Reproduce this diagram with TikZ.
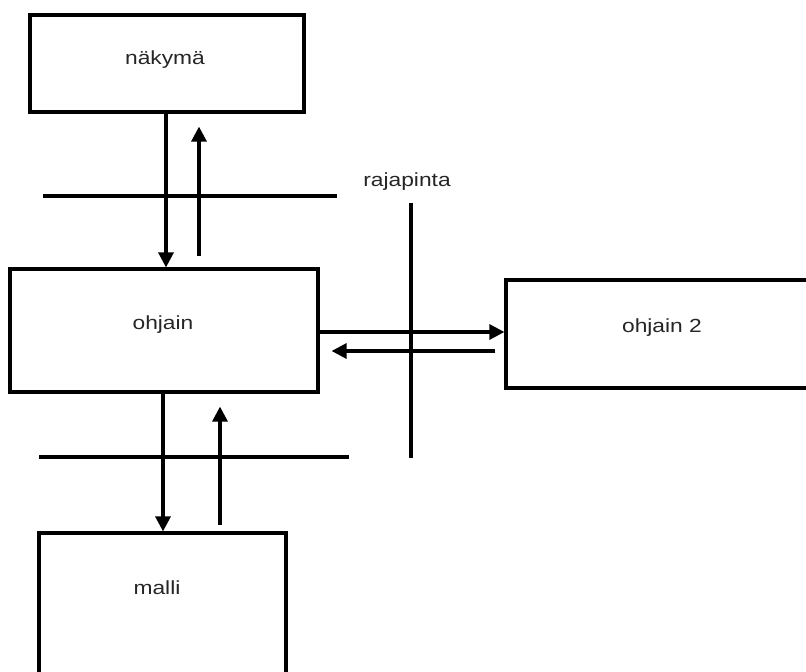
\documentclass[tikz,border=0pt]{standalone}
\usepackage{fontspec}
\setmainfont{Liberation Sans}
\usetikzlibrary{arrows.meta}
% labels are set a little wider than the plain font
\newcommand{\widetext}[1]{\scalebox{1.2}[1]{#1}}
\begin{document}
\begin{tikzpicture}[x=1pt,y=-1pt,
  box/.style={draw=black, line width=3.2pt, rectangle, inner sep=0pt},
  lbl/.style={font=\fontsize{19}{22}\selectfont, text=black!85, inner sep=0pt},
  arr/.style={line width=3.2pt, -{Triangle[length=15pt,width=15pt]}},
  rule/.style={line width=3.2pt}]
\clip (0,0) rectangle (806,672);
\fill[white] (0,0) rectangle (806,672);

% boxes
\node[box, minimum width=274pt, minimum height=97pt]  (nakyma) at (167,63.5) {};
\node[box, minimum width=308pt, minimum height=123pt] (ohjain) at (164,330.5) {};
\node[box, minimum width=312pt, minimum height=108pt] (ohjain2) at (662,334) {};
\node[box, minimum width=247pt, minimum height=179pt] (malli) at (162.5,622.5) {};

% box labels
\node[lbl] (nakymaText)  at (165,60)  {\widetext{näkymä}};
\node[lbl] (ohjainText)  at (163,325) {\widetext{ohjain}};
\node[lbl] (ohjain2Text) at (662,328) {\widetext{ohjain 2}};
\node[lbl] (malliText)   at (157,588) {\widetext{malli}};

% interface boundaries
\coordinate (topRuleL) at (43,196);
\coordinate (topRuleR) at (337,196);
\coordinate (botRuleL) at (39,457);
\coordinate (botRuleR) at (349,457);
\coordinate (sideRuleT) at (411,203);
\coordinate (sideRuleB) at (411,458);
\draw[rule] (topRuleL) -- (topRuleR);
\draw[rule] (botRuleL) -- (botRuleR);
\draw[rule] (sideRuleT) -- (sideRuleB);
\node[lbl] (rajapinta) at (407,182) {\widetext{rajapinta}};

% lanes of the connectors
\coordinate (laneA) at (166,0);
\coordinate (laneB) at (199,0);
\coordinate (laneC) at (163,0);
\coordinate (laneD) at (220,0);
\coordinate (laneE) at (0,332);
\coordinate (laneF) at (0,351);

% view <-> controller
\draw[arr] (nakyma.south -| laneA) -- (ohjain.north -| laneA);
\draw[arr, shorten <=11pt, shorten >=13pt] (ohjain.north -| laneB) -- (nakyma.south -| laneB);

% controller <-> controller 2
\draw[arr] (ohjain.east |- laneE) -- (ohjain2.west |- laneE);
\draw[arr, shorten <=9pt, shorten >=12pt] (ohjain2.west |- laneF) -- (ohjain.east |- laneF);

% controller <-> model
\draw[arr] (ohjain.south -| laneC) -- (malli.north -| laneC);
\draw[arr, shorten <=6pt, shorten >=13pt] (malli.north -| laneD) -- (ohjain.south -| laneD);
\end{tikzpicture}
\end{document}
